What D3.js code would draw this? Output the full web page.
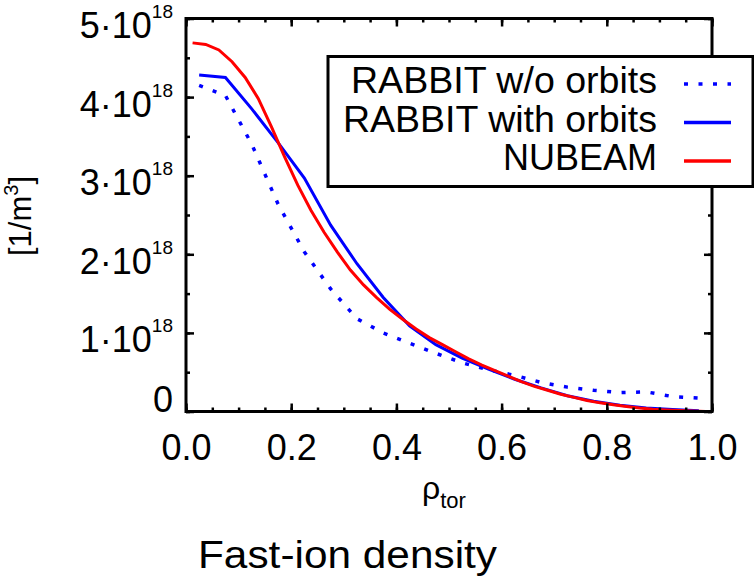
<!DOCTYPE html>
<html>
<head>
<meta charset="utf-8">
<script src="https://cdn.jsdelivr.net/npm/d3@7"></script>
<style>
  body { margin: 0; background: #fff; }
  svg { display: block; font-family: "Liberation Sans", Arial, sans-serif; }
</style>
</head>
<body>
<div id="chart"></div>
<script>
// RABBIT radial grid
const rhoRabbit = [0.025, 0.075, 0.125, 0.175, 0.225, 0.275, 0.325, 0.375, 0.425, 0.475,
  0.525, 0.575, 0.625, 0.675, 0.725, 0.775, 0.825, 0.875, 0.925, 0.975];
// densities in 1e18 / m^3
const rabbitNoOrbits = [4.15, 4.02, 3.40, 2.64, 2.03, 1.56, 1.18, 1.00, 0.87, 0.74,
  0.62, 0.53, 0.46, 0.37, 0.31, 0.27, 0.24, 0.25, 0.19, 0.17];
const rabbitOrbits = [4.28, 4.25, 3.85, 3.42, 2.97, 2.37, 1.88, 1.45, 1.09, 0.85,
  0.68, 0.54, 0.41, 0.30, 0.20, 0.13, 0.08, 0.045, 0.025, 0.01];

// NUBEAM radial grid
const rhoNubeam = [0.0125, 0.0375, 0.0625, 0.0875, 0.1125, 0.1375, 0.1625, 0.1875, 0.2125, 0.2375,
  0.2625, 0.2875, 0.3125, 0.3375, 0.3625, 0.3875, 0.4125, 0.4375, 0.4625, 0.4875,
  0.5125, 0.5375, 0.5625, 0.5875, 0.6125, 0.6375, 0.6625, 0.6875, 0.7125, 0.7375,
  0.7625, 0.7875, 0.8125, 0.8375, 0.8625, 0.8875, 0.9125, 0.9375, 0.9625, 0.9875];
const nubeam = [4.69, 4.67, 4.60, 4.45, 4.25, 3.98, 3.62, 3.24, 2.88, 2.56,
  2.28, 2.03, 1.80, 1.61, 1.45, 1.30, 1.17, 1.05, 0.94, 0.85,
  0.76, 0.67, 0.59, 0.52, 0.45, 0.38, 0.32, 0.27, 0.22, 0.18,
  0.14, 0.11, 0.085, 0.065, 0.045, 0.03, 0.02, 0.012, 0.006, 0.0];

const xTicks = [0, 0.2, 0.4, 0.6, 0.8, 1.0];
const yTicks = [0, 1, 2, 3, 4, 5];
const legendLabels = ["RABBIT w/o orbits", "RABBIT with orbits", "NUBEAM"];

const W = 754, H = 580;
const pl = 186, pr = 712, pt = 18.5, pb = 411.5;

const svg = d3.select("#chart").append("svg")
  .attr("width", W).attr("height", H);

const x = d3.scaleLinear().domain([0, 1]).range([pl, pr]);
const y = d3.scaleLinear().domain([0, 5]).range([pb, pt]);

svg.append("clipPath").attr("id", "clip")
  .append("rect").attr("x", pl).attr("y", pt)
  .attr("width", pr - pl).attr("height", pb - pt);

// lines
const line = d3.line().x(d => x(d[0])).y(d => y(d[1]));
const plot = svg.append("g").attr("clip-path", "url(#clip)");

plot.append("path")
  .datum(d3.zip(rhoRabbit, rabbitNoOrbits))
  .attr("d", line)
  .attr("fill", "none").attr("stroke", "#0000ff")
  .attr("stroke-width", 3.5).attr("stroke-dasharray", "4,10.5");

plot.append("path")
  .datum(d3.zip(rhoRabbit, rabbitOrbits))
  .attr("d", line)
  .attr("fill", "none").attr("stroke", "#0000ff").attr("stroke-width", 3);

plot.append("path")
  .datum(d3.zip(rhoNubeam, nubeam))
  .attr("d", line)
  .attr("fill", "none").attr("stroke", "#ff0000").attr("stroke-width", 3);

// axes: inward ticks on all four sides
const minorX = d3.range(0, 1.0001, 0.05);
const minorY = d3.range(0, 5.0001, 0.5);

function styleAxis(g) {
  g.select(".domain").remove();
  g.selectAll(".tick line").attr("stroke", "#000").attr("stroke-width", 2.5);
}

svg.append("g").attr("transform", `translate(0,${pb})`)
  .call(d3.axisBottom(x).tickValues(minorX).tickSize(-4).tickFormat(""))
  .call(styleAxis);
const xAxis = svg.append("g").attr("transform", `translate(0,${pb})`)
  .call(d3.axisBottom(x).tickValues(xTicks).tickSize(-8).tickFormat(d3.format(".1f")))
  .call(styleAxis);
xAxis.selectAll(".tick text")
  .attr("y", 48.5).attr("dy", null)
  .attr("font-size", 36).attr("fill", "#000")
  .attr("font-family", "Liberation Sans, Arial, sans-serif");

svg.append("g").attr("transform", `translate(0,${pt})`)
  .call(d3.axisTop(x).tickValues(minorX).tickSize(-4).tickFormat(""))
  .call(styleAxis);
svg.append("g").attr("transform", `translate(0,${pt})`)
  .call(d3.axisTop(x).tickValues(xTicks).tickSize(-8).tickFormat(""))
  .call(styleAxis);

svg.append("g").attr("transform", `translate(${pl},0)`)
  .call(d3.axisLeft(y).tickValues(minorY).tickSize(-4).tickFormat(""))
  .call(styleAxis);
const yAxis = svg.append("g").attr("transform", `translate(${pl},0)`)
  .call(d3.axisLeft(y).tickValues(yTicks).tickSize(-8).tickFormat(""))
  .call(styleAxis);

svg.append("g").attr("transform", `translate(${pr},0)`)
  .call(d3.axisRight(y).tickValues(minorY).tickSize(-4).tickFormat(""))
  .call(styleAxis);
svg.append("g").attr("transform", `translate(${pr},0)`)
  .call(d3.axisRight(y).tickValues(yTicks).tickSize(-8).tickFormat(""))
  .call(styleAxis);

// y tick labels like 4·10^18
yAxis.selectAll(".tick text").each(function(d) {
  const t = d3.select(this)
    .attr("x", -13).attr("dy", null)
    .attr("font-size", 36).attr("fill", "#000")
    .attr("text-anchor", "end")
    .attr("font-family", "Liberation Sans, Arial, sans-serif");
  if (d === 0) {
    t.attr("y", 0).text("0");
  } else {
    t.attr("y", 19).text(null);
    t.append("tspan").text(d + "·10");
    t.append("tspan").attr("font-size", 19).attr("dy", -20).text("18");
  }
});

// frame
svg.append("rect")
  .attr("x", pl).attr("y", pt)
  .attr("width", pr - pl).attr("height", pb - pt)
  .attr("fill", "none").attr("stroke", "#000").attr("stroke-width", 3);

// legend
const legend = svg.append("g");
legend.append("rect")
  .attr("x", 328).attr("y", 56.5).attr("width", 425).attr("height", 130)
  .attr("fill", "#fff").attr("stroke", "#000").attr("stroke-width", 3);

const legendStyles = [
  {color: "#0000ff", dash: "4,10.5", w: 3.5},
  {color: "#0000ff", dash: null, w: 3.5},
  {color: "#ff0000", dash: null, w: 3.5}
];
const legendWidths = [306, 314, null];
legendLabels.forEach((lab, i) => {
  const yb = 93 + i * 38.5;
  const t = legend.append("text")
    .attr("x", 657).attr("y", yb)
    .attr("text-anchor", "end").attr("font-size", 36)
    .text(lab);
  if (legendWidths[i]) {
    t.attr("textLength", legendWidths[i]).attr("lengthAdjust", "spacingAndGlyphs");
  }
  legend.append("line")
    .attr("x1", 684).attr("x2", 731)
    .attr("y1", yb - 9).attr("y2", yb - 9)
    .attr("stroke", legendStyles[i].color)
    .attr("stroke-width", legendStyles[i].w)
    .attr("stroke-dasharray", legendStyles[i].dash);
});

// axis titles
const xt = svg.append("text")
  .attr("x", 422).attr("y", 499).attr("font-size", 32);
xt.append("tspan").text("ρ");
xt.append("tspan").attr("font-size", 22).attr("dy", 9).text("tor");

const yt = svg.append("text")
  .attr("transform", "translate(31,216) rotate(-90)")
  .attr("text-anchor", "middle").attr("font-size", 31);
yt.append("tspan").text("[1/m");
yt.append("tspan").attr("font-size", 20).attr("dy", -13).text("3");
yt.append("tspan").attr("dy", 13).text("]");

svg.append("text")
  .attr("x", 198).attr("y", 568)
  .attr("font-size", 38)
  .attr("textLength", 299).attr("lengthAdjust", "spacingAndGlyphs")
  .text("Fast-ion density");
</script>
</body>
</html>
